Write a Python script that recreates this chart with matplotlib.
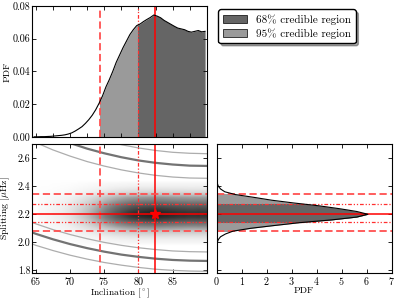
import numpy as np
import matplotlib
matplotlib.use("Agg")
import matplotlib.pyplot as plt
from matplotlib.patches import Rectangle
from matplotlib.colors import PowerNorm

plt.rcParams['font.family'] = ['cmr10', 'DejaVu Serif']
plt.rcParams['mathtext.fontset'] = 'cm'
plt.rcParams['axes.formatter.use_mathtext'] = True
plt.rcParams['font.size'] = 7.5

# inclination marginal (bin centres, deg)
incl = np.arange(64.75, 90.0, 0.5)
incl_pdf = [0.0000, 0.0000, 0.0001, 0.0001, 0.0002, 0.0003, 0.0005, 0.0007,
            0.0009, 0.0012, 0.0017, 0.0024, 0.0035, 0.0048, 0.0062, 0.0082,
            0.0105, 0.0132, 0.0165, 0.0205, 0.0250, 0.0305, 0.0350, 0.0400,
            0.0455, 0.0500, 0.0545, 0.0585, 0.0625, 0.0655, 0.0680, 0.0690,
            0.0705, 0.0718, 0.0730, 0.0745, 0.0738, 0.0728, 0.0712, 0.0700,
            0.0688, 0.0676, 0.0665, 0.0660, 0.0655, 0.0645, 0.0640, 0.0645,
            0.0650, 0.0642, 0.0645]

# splitting marginal (muHz)
split = np.arange(1.98, 2.445, 0.02)
split_pdf = [0.0, 0.02, 0.06, 0.15, 0.35, 0.65, 1.35, 2.3, 3.3, 4.6, 5.6,
             6.05, 5.6, 4.9, 4.1, 3.1, 2.2, 1.5, 0.75, 0.32, 0.15, 0.06,
             0.02, 0.0]

# best value and credible bounds
i_best, i_68, i_95 = 82.4, 80.0, 74.4
s_best = 2.20
s_68 = (2.142, 2.275)
s_95 = (2.079, 2.344)

# lines of constant projected splitting, read at these inclinations
iso_x = [64.5, 65, 67.5, 70, 72.5, 75, 77.5, 80, 82.5, 85, 87.5, 90]
iso_thin = [
    [1.988, 1.979, 1.942, 1.909, 1.881, 1.857, 1.838, 1.822, 1.809, 1.801, 1.796, 1.794],
    [2.141, 2.132, 2.091, 2.056, 2.026, 2.000, 1.979, 1.962, 1.949, 1.939, 1.934, 1.932],
    [2.721, 2.710, 2.658, 2.614, 2.575, 2.543, 2.516, 2.494, 2.477, 2.465, 2.458, 2.456],
    [2.915, 2.903, 2.848, 2.800, 2.759, 2.724, 2.695, 2.672, 2.654, 2.641, 2.634, 2.631],
]
iso_thick = [
    [2.070, 2.061, 2.022, 1.988, 1.959, 1.934, 1.913, 1.897, 1.884, 1.875, 1.870, 1.868],
    [2.819, 2.807, 2.754, 2.707, 2.667, 2.634, 2.606, 2.583, 2.566, 2.554, 2.546, 2.544],
]

dark, light = '#656565', '#9a9a9a'
red = '#ff0000'
dash_kw = dict(color='#ff5050', lw=1.3, dashes=(4, 2))
dd_kw = dict(color='#ff3030', lw=0.9, dashes=(3, 1.5, 1, 1.5, 1, 1.5))
solid_kw = dict(color=red, lw=1.1)

fig = plt.figure(figsize=(4, 3), dpi=100)
ax_top = fig.add_axes([0.081, 0.544, 0.436, 0.436])
ax_2d = fig.add_axes([0.081, 0.089, 0.436, 0.431])
ax_r = fig.add_axes([0.542, 0.089, 0.437, 0.431])

for ax in (ax_top, ax_2d, ax_r):
    ax.tick_params(direction='in', top=True, right=True, length=3, width=0.6,
                   pad=1.5, labelsize=7.2)
    for sp in ax.spines.values():
        sp.set_linewidth(0.8)

# --- top: inclination PDF
ax_top.plot(incl, incl_pdf, color='k', lw=0.8, zorder=3)
for lo, hi, c in ((i_95, i_68, light), (i_68, 90, dark)):
    poly = ax_top.fill_between(incl, 0, incl_pdf, color=c, lw=0, zorder=1)
    poly.set_clip_path(Rectangle((lo, 0), hi - lo, 1, transform=ax_top.transData))
ax_top.axvline(i_95, **dash_kw)
ax_top.axvline(i_68, **dd_kw)
ax_top.axvline(i_best, **solid_kw)
ax_top.set_xlim(64.5, 90)
ax_top.set_ylim(0, 0.08)
ax_top.set_xticks(np.arange(65, 90.1, 2.5))
ax_top.set_xticklabels([])
ax_top.set_yticks([0, 0.02, 0.04, 0.06, 0.08])
ax_top.set_yticklabels(['0.00', '0.02', '0.04', '0.06', '0.08'])
ax_top.set_ylabel('PDF', fontsize=7)
ax_top.yaxis.set_label_coords(-0.118, 0.5)

# --- bottom left: joint density
dens = np.outer(split_pdf, incl_pdf)
ax_2d.imshow(dens, origin='lower', aspect='auto', cmap='Greys',
             norm=PowerNorm(0.42, vmin=0, vmax=dens.max() * 1.3),
             extent=(64.5, 90, 1.97, 2.45), interpolation='bilinear', zorder=0)
for yv in iso_thin:
    ax_2d.plot(iso_x, yv, color='0.68', lw=0.9, zorder=2)
for yv in iso_thick:
    ax_2d.plot(iso_x, yv, color='0.45', lw=1.6, zorder=2)
ax_2d.axvline(i_95, **dash_kw)
ax_2d.axvline(i_68, **dd_kw)
ax_2d.axvline(i_best, **solid_kw)
for ax in (ax_2d, ax_r):
    for b in s_95:
        ax.axhline(b, **dash_kw)
    for b in s_68:
        ax.axhline(b, **dd_kw)
    ax.axhline(s_best, **solid_kw)
ax_2d.plot([i_best], [s_best], marker='*', color=red, ms=7, zorder=5)
ax_2d.set_xlim(64.5, 90)
ax_2d.set_ylim(1.78, 2.7)
ax_2d.set_xticks([65, 70, 75, 80, 85])
ax_2d.set_yticks([1.8, 2.0, 2.2, 2.4, 2.6])
ax_2d.set_yticklabels(['1.8', '2.0', '2.2', '2.4', '2.6'])
ax_2d.set_xlabel(r'Inclination [$^\circ$]', fontsize=6.8)
ax_2d.xaxis.set_label_coords(0.5, -0.1)
ax_2d.set_ylabel(r'Splitting [$\mu$Hz]', fontsize=7)
ax_2d.yaxis.set_label_coords(-0.118, 0.5)

# --- bottom right: splitting PDF
ax_r.plot(split_pdf, split, color='k', lw=0.8, zorder=3)
for (lo, hi), c in ((s_95, light), (s_68, dark)):
    poly = ax_r.fill_betweenx(split, 0, split_pdf, color=c, lw=0, zorder=1)
    poly.set_clip_path(Rectangle((0, lo), 10, hi - lo, transform=ax_r.transData))
ax_r.set_xlim(0, 7)
ax_r.set_ylim(1.78, 2.7)
ax_r.set_xticks(range(8))
ax_r.set_yticks([1.8, 2.0, 2.2, 2.4, 2.6])
ax_r.set_yticklabels([])
ax_r.set_xlabel('PDF', fontsize=7)
ax_r.xaxis.set_label_coords(0.5, -0.1)

handles = [Rectangle((0, 0), 1, 1, fc=dark, ec='k', lw=0.5),
           Rectangle((0, 0), 1, 1, fc=light, ec='k', lw=0.5)]
fig.legend(handles, ['68% credible region', '95% credible region'],
           loc='upper left', bbox_to_anchor=(0.532, 0.987), fontsize=8,
           fancybox=True, shadow=True, framealpha=1, edgecolor='k',
           handlelength=2.2, handletextpad=0.8, borderpad=0.4, labelspacing=0.3)

fig.savefig('out.png', dpi=100)
